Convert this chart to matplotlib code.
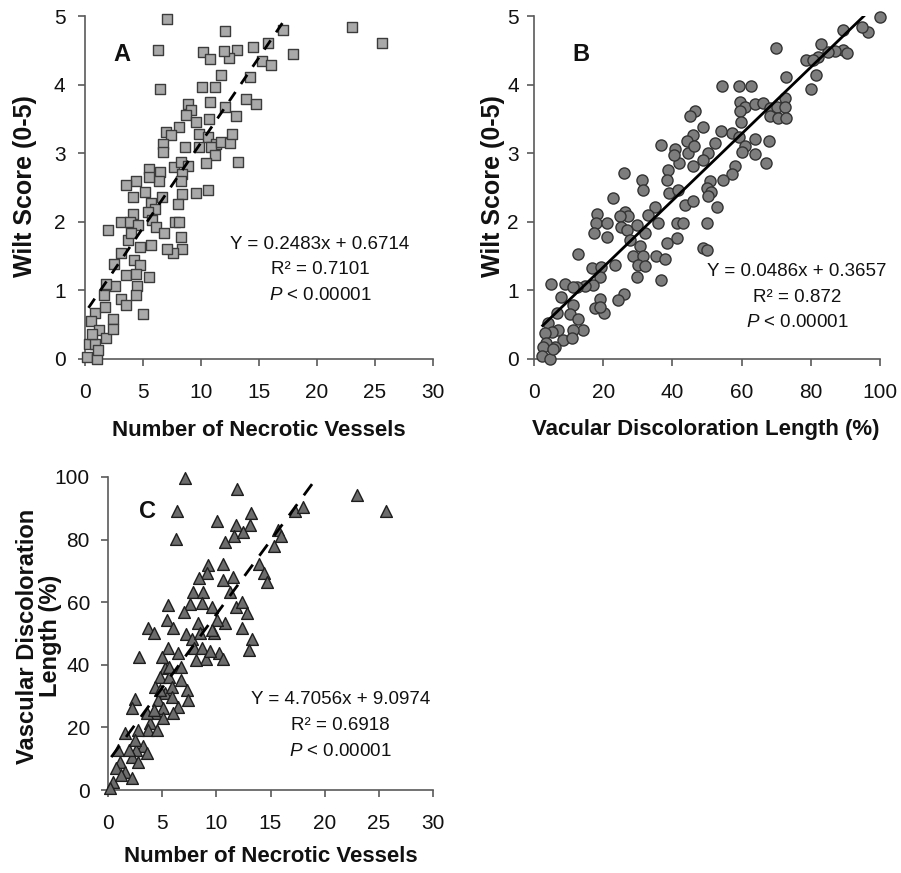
import matplotlib
matplotlib.use("Agg")
import matplotlib.pyplot as plt

# ---------------- data ----------------
# Panel A: Number of necrotic vessels vs wilt score
A_x = [7.1, 23.0, 25.6, 6.3, 12.1, 17.1, 17.9, 15.8, 14.5, 13.1, 12.4, 12.0, 10.2, 10.8,
       15.3, 16.0, 11.7, 14.2, 6.5, 10.1, 11.2, 13.9, 14.7, 10.8, 12.1, 13.0, 10.7, 8.9,
       9.1, 8.7, 9.6, 8.1, 7.0, 7.4, 6.7, 6.7, 8.6, 9.8, 10.6, 11.3, 10.9, 11.7, 12.5, 12.7,
       11.2, 10.4, 13.2, 9.8, 7.7, 8.3, 8.9, 8.4, 8.3, 8.4, 9.6, 10.6, 8.0, 6.5, 6.4, 5.5,
       5.5, 5.2, 4.4, 4.1, 3.5, 5.7, 6.6, 6.0, 5.4, 4.1, 3.1, 3.9, 4.6, 5.8, 6.1, 6.8,
       7.8, 8.1, 8.3, 8.4, 7.6, 7.1, 5.7, 4.7, 3.7, 4.0, 2.0, 3.1, 2.5, 4.2, 4.7, 3.5,
       5.5, 4.4, 4.5, 2.6, 1.8, 1.6, 3.1, 4.4, 3.5, 5.0, 0.9, 1.7, 2.4, 0.5, 1.2, 1.8,
       2.4, 0.35, 0.9, 0.2, 1.0, 0.6, 1.1]
A_y = [4.96, 4.84, 4.60, 4.50, 4.78, 4.80, 4.45, 4.61, 4.55, 4.51, 4.39, 4.49, 4.48, 4.38,
       4.35, 4.28, 4.14, 4.11, 3.93, 3.97, 3.97, 3.79, 3.71, 3.75, 3.67, 3.54, 3.50, 3.72,
       3.63, 3.55, 3.45, 3.38, 3.31, 3.26, 3.14, 3.02, 3.09, 3.28, 3.24, 3.14, 3.09, 3.16,
       3.15, 3.28, 2.97, 2.85, 2.87, 3.09, 2.80, 2.87, 2.82, 2.70, 2.60, 2.41, 2.42, 2.46,
       2.26, 2.73, 2.60, 2.77, 2.65, 2.43, 2.60, 2.36, 2.53, 2.28, 2.36, 2.19, 2.14, 2.12,
       2.00, 2.00, 1.96, 2.02, 1.92, 1.84, 2.00, 2.00, 1.78, 1.61, 1.54, 1.61, 1.66, 1.63,
       1.73, 1.83, 1.88, 1.54, 1.39, 1.44, 1.37, 1.22, 1.20, 1.24, 1.07, 1.07, 1.10, 0.93,
       0.88, 0.93, 0.78, 0.66, 0.67, 0.76, 0.59, 0.56, 0.42, 0.30, 0.44, 0.22, 0.22, 0.03,
       0.00, 0.37, 0.13]

# Panel B: vascular discoloration length vs wilt score
B_x = [100, 96.6, 94.7, 89.2, 89.2, 90.5, 87, 85, 83, 82, 78.6, 80.7, 81.5, 80.2, 69.8,
       72.8, 54.2, 59.3, 62.6, 59.5, 61, 63.9, 66.3, 68.2, 70.1, 72.5, 72.5, 68.2, 70.6,
       72.8, 59.5, 59.7, 57.1, 59.3, 63.9, 68, 61, 60, 63.9, 67.1, 58.1, 57.1, 54.5, 54,
       52.3, 50.4, 48.7, 48.9, 46.5, 45.1, 46.0, 44.1, 44.6, 46.2, 46.0, 42, 40.8, 40.5,
       36.6, 38.8, 38.3, 39.1, 41.7, 43.6, 46, 50.9, 49.9, 51.3, 50.4, 52.8, 49.9, 48.9,
       49.9, 41.2, 43, 41.2, 38.3, 35, 33.0, 35.9, 31.1, 31.6, 26, 22.7, 26.3, 27.3, 24.8,
       25.0, 26.8, 29.7, 32.1, 27.7, 30.6, 28.7, 31.6, 30.1, 32.1, 35.3, 37.9, 36.6, 29.7,
       26, 24.4, 18.1, 17.9, 21, 17.3, 21, 12.6, 23.4, 16.7, 19.3, 19.1, 17.1, 14.7, 12.3,
       9, 4.8, 11.2, 7.7, 19.1, 17.6, 20.2, 19.1, 11.4, 10.4, 12.8, 14.3, 11.4, 6.6, 4.1,
       7, 5.1, 3.2, 8.5, 10.9, 6.1, 3.5, 2.7, 2.2, 4.6, 5.6]
B_y = [4.98, 4.77, 4.84, 4.80, 4.50, 4.46, 4.49, 4.47, 4.59, 4.40, 4.36, 4.36, 4.14, 3.93,
       4.54, 4.11, 3.98, 3.98, 3.98, 3.75, 3.68, 3.72, 3.73, 3.66, 3.68, 3.80, 3.68, 3.54,
       3.51, 3.51, 3.61, 3.46, 3.29, 3.24, 3.21, 3.18, 3.10, 3.02, 2.99, 2.85, 2.81, 2.69,
       2.61, 3.32, 3.15, 3.00, 2.90, 3.38, 3.61, 3.54, 3.27, 3.18, 3.00, 3.10, 2.81, 2.85,
       3.06, 2.98, 3.12, 2.76, 2.61, 2.42, 2.47, 2.25, 2.30, 2.59, 2.49, 2.44, 2.37, 2.22,
       1.98, 1.62, 1.59, 1.98, 1.98, 1.76, 1.69, 2.22, 2.10, 1.98, 2.61, 2.47, 2.71, 2.34,
       2.15, 2.09, 2.08, 1.93, 1.88, 1.96, 1.83, 1.74, 1.64, 1.50, 1.50, 1.37, 1.35, 1.50,
       1.46, 1.15, 1.20, 0.95, 0.86, 2.12, 1.98, 1.98, 1.83, 1.78, 1.53, 1.37, 1.32, 1.34,
       1.20, 1.08, 1.06, 1.05, 1.10, 1.09, 1.05, 0.91, 0.88, 0.74, 0.67, 0.76, 0.78, 0.66,
       0.59, 0.43, 0.43, 0.67, 0.52, 0.43, 0.40, 0.38, 0.28, 0.30, 0.18, 0.23, 0.18, 0.04,
       0.00, 0.14]

# Panel C: number of necrotic vessels vs vascular discoloration length
C_x = [7.07, 11.9, 23.0, 25.7, 6.35, 6.3, 10.1, 13.2, 13.1, 11.8, 11.6, 12.5, 10.8, 15.7,
       15.96, 15.3, 17.3, 18.0, 13.9, 14.4, 14.7, 9.2, 9.1, 10.6, 10.6, 11.5, 8.4, 7.8,
       8.8, 11.3, 11.8, 12.4, 12.8, 12.4, 13.3, 13.0, 9.6, 8.7, 7.6, 7.0, 5.5, 5.4, 6.0,
       7.2, 7.75, 8.3, 8.5, 7.9, 8.7, 9.0, 9.8, 10.2, 10.6, 10.8, 10.1, 9.6, 3.7, 4.2,
       2.9, 5.5, 6.5, 6.7, 5.3, 4.8, 5.6, 4.3, 5.3, 5.9, 6.7, 7.3, 7.4, 6.5, 5.9, 4.6,
       5.1, 4.3, 5.1, 3.9, 3.7, 4.5, 2.5, 2.2, 3.6, 2.8, 3.2, 2.6, 2.2, 1.55, 0.93, 1.1,
       1.55, 2.2, 0.77, 0.46, 0.15, 1.24, 3.6, 2.8, 1.9, 2.5, 4.2, 6.0, 4.8, 5.6, 8.1,
       9.4, 4.96]
C_y = [99.7, 96.2, 94.3, 89.2, 89.2, 80.2, 85.8, 88.5, 84.8, 84.8, 81.0, 82.3, 79.1, 83.2,
       81.0, 78.0, 89.2, 90.3, 72.3, 69.3, 66.4, 72.0, 69.3, 72.3, 67.0, 68.0, 67.7, 63.4,
       63.4, 63.4, 58.6, 60.2, 56.5, 51.7, 48.2, 44.8, 58.6, 59.7, 59.5, 57.0, 59.2, 54.4,
       51.7, 49.9, 48.2, 53.3, 50.1, 45.3, 45.3, 41.8, 50.1, 43.7, 41.8, 53.5, 54.4, 51.2,
       51.7, 50.1, 42.6, 45.3, 43.7, 39.4, 38.9, 36.2, 36.2, 33.0, 30.9, 33.0, 35.2, 32.0,
       28.8, 26.4, 29.6, 28.8, 26.1, 24.5, 22.9, 21.3, 19.2, 19.2, 29.0, 26.1, 24.5, 19.2,
       13.9, 12.8, 10.7, 18.1, 12.8, 9.1, 5.9, 3.7, 6.9, 2.7, 0.5, 4.8, 11.7, 9.1, 12.8,
       16.0, 25.6, 24.5, 31.9, 39.2, 41.6, 44.3, 42.4]

# regression fits (slope, intercept) and line extents
A_fit = (0.2483, 0.6714)
B_fit = (0.0486, 0.3657)
C_fit = (4.7056, 9.0974)
A_fit_range = (0.3, 17.4)
B_fit_range = (2.5, 95.3)
C_fit_range = (0.3, 19.3)

A_ticks_x = [0, 5, 10, 15, 20, 25, 30]
A_ticks_y = [0, 1, 2, 3, 4, 5]
B_ticks_x = [0, 20, 40, 60, 80, 100]
B_ticks_y = [0, 1, 2, 3, 4, 5]
C_ticks_x = [0, 5, 10, 15, 20, 25, 30]
C_ticks_y = [0, 20, 40, 60, 80, 100]

# ---------------- fonts ----------------
FAM = ["Liberation Sans", "DejaVu Sans"]
plt.rcParams["font.family"] = FAM
plt.rcParams["mathtext.fontset"] = "custom"
plt.rcParams["mathtext.it"] = "Liberation Sans:italic"
tick_fs, ann_fs = 15, 13.5

W, H = 901, 873
fig = plt.figure(figsize=(W / 100, H / 100), dpi=100)


def fr(l, t, r, b):
    return [l / W, 1 - b / H, (r - l) / W, (b - t) / H]


def fx(px):
    return px / W


def fy(py):
    return 1 - py / H


axA = fig.add_axes(fr(85, 16, 433, 359))
axB = fig.add_axes(fr(534, 16, 880, 359))
axC = fig.add_axes(fr(108, 477, 433, 790))

SPINE = "#5a5a5a"
TXT = "#111111"


def style(ax, xt, yt, xlim, ylim, xpad, ypad):
    ax.set_xlim(*xlim)
    ax.set_ylim(*ylim)
    ax.set_xticks(xt)
    ax.set_yticks(yt)
    for s in ["top", "right"]:
        ax.spines[s].set_visible(False)
    for s in ["left", "bottom"]:
        ax.spines[s].set_color(SPINE)
        ax.spines[s].set_linewidth(1.2)
    ax.tick_params(axis="both", direction="out", length=5, width=1.2, color=SPINE,
                   labelcolor=TXT, labelsize=tick_fs)
    ax.tick_params(axis="x", pad=xpad)
    ax.tick_params(axis="y", pad=ypad)


def annotate(ax, x, y, lines, dy):
    t1, t2 = lines
    ax.text(x, y, t1, transform=ax.transAxes, ha="center", va="center",
            fontsize=ann_fs, color=TXT)
    ax.text(x, y - dy, t2, transform=ax.transAxes, ha="center", va="center",
            fontsize=ann_fs, color=TXT)
    ax.text(x, y - 2 * dy, r"$\it{P}$ < 0.00001", transform=ax.transAxes, ha="center",
            va="center", fontsize=ann_fs, color=TXT)


def xlabel(text, cx, cy):
    fig.text(fx(cx), fy(cy), text, ha="center", va="center", fontsize=16,
             fontweight="bold", color=TXT)


def ylabel(text, cx, cy, size=18, ls=1.0):
    fig.text(fx(cx), fy(cy), text, ha="center", va="center", fontsize=size,
             fontweight="bold", rotation=90, color=TXT, linespacing=ls,
             multialignment="center")


# Panel A
axA.scatter(A_x, A_y, marker="s", s=62, facecolor="#a9a9a9", edgecolor="#3c3c3c",
            linewidth=1.0, clip_on=False, zorder=3)
xs = list(A_fit_range)
axA.plot(xs, [A_fit[0] * v + A_fit[1] for v in xs], color="black", lw=2.0,
         dashes=(4, 3.5), zorder=4)
style(axA, A_ticks_x, A_ticks_y, (0, 30), (0, 5), 12.5, 9)
xlabel("Number of Necrotic Vessels", 259, 430)
ylabel("Wilt Score (0-5)", 25, 186)
axA.text(0.107, 0.887, "A", transform=axA.transAxes, fontsize=17, fontweight="bold",
         ha="center", va="center", color=TXT)
annotate(axA, 0.675, 0.335, ["Y = 0.2483x + 0.6714", "R² = 0.7101"], 0.075)

# Panel B
axB.scatter(B_x, B_y, marker="o", s=64, facecolor="#7d7d7d", edgecolor="#333333",
            linewidth=1.0, clip_on=False, zorder=3)
xs = list(B_fit_range)
axB.plot(xs, [B_fit[0] * v + B_fit[1] for v in xs], color="black", lw=2.0, zorder=4)
style(axB, B_ticks_x, B_ticks_y, (0, 100), (0, 5), 12.5, 6)
xlabel("Vacular Discoloration Length (%)", 706, 430)
ylabel("Wilt Score (0-5)", 493, 186)
axB.text(0.135, 0.887, "B", transform=axB.transAxes, fontsize=17, fontweight="bold",
         ha="center", va="center", color=TXT)
annotate(axB, 0.76, 0.255, ["Y = 0.0486x + 0.3657", "R² = 0.872"], 0.075)

# Panel C
axC.scatter(C_x, C_y, marker="^", s=72, facecolor="#6c6c6c", edgecolor="#1e1e1e",
            linewidth=1.0, clip_on=False, zorder=3)
xs = list(C_fit_range)
axC.plot(xs, [C_fit[0] * v + C_fit[1] for v in xs], color="black", lw=2.0,
         dashes=(5, 4), zorder=4)
style(axC, C_ticks_x, C_ticks_y, (0, 30), (0, 100), 12.5, 8)
xlabel("Number of Necrotic Vessels", 271, 857)
ylabel("Vascular Discoloration\nLength (%)", 39, 636, size=17, ls=0.95)
axC.text(0.12, 0.89, "C", transform=axC.transAxes, fontsize=17, fontweight="bold",
         ha="center", va="center", color=TXT)
annotate(axC, 0.715, 0.29, ["Y = 4.7056x + 9.0974", "R² = 0.6918"], 0.083)

fig.savefig("out.png", dpi=100)
